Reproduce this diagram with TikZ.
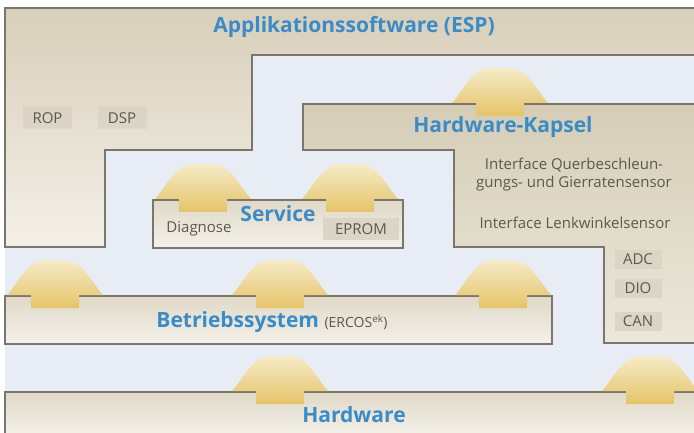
\documentclass[tikz,border=0pt]{standalone}
\usepackage{fontspec}
\setmainfont{Open Sans}
\definecolor{bgblue}{HTML}{E8ECF5}
\definecolor{linec}{HTML}{7A766C}
\definecolor{bluetxt}{HTML}{3A8BC8}
\definecolor{graytxt}{HTML}{5A5850}
\definecolor{tagfill}{HTML}{DCD5C5}
\definecolor{arrtop}{HTML}{F6EBC8}
\definecolor{arrmid}{HTML}{EFD283}
\definecolor{arrbot}{HTML}{E5C468}
\definecolor{appA}{HTML}{D8CFBA}
\definecolor{appB}{HTML}{F4F0E8}
\definecolor{kapA}{HTML}{D5CDB6}
\definecolor{kapB}{HTML}{ECE7DB}
\definecolor{boxA}{HTML}{E0D9C7}
\definecolor{boxB}{HTML}{F4F1EA}
\tikzset{
  region/.style={draw=linec, line width=1.5pt},
  title/.style={text=bluetxt, font=\bfseries\fontsize{21}{24}\selectfont, inner sep=0pt},
  smalltxt/.style={text=graytxt, font=\fontsize{15}{18}\selectfont, align=center, inner sep=0pt},
  tag/.style={fill=tagfill, text=graytxt, font=\fontsize{15}{17}\selectfont, inner sep=0pt},
  pics/uparr/.style={code={
    \path[top color=arrtop, middle color=arrmid, bottom color=arrbot]
      (-48,-1) .. controls (-38,-12) and (-28,-34) .. (-12,-36) -- (12,-36)
      .. controls (28,-34) and (38,-12) .. (48,-1)
      -- (24,-1) -- (24,12) -- (-24,12) -- (-24,-1) -- cycle;
  }}
}
\begin{document}
\begin{tikzpicture}[x=1pt,y=-1pt]
\useasboundingbox (0,0) rectangle (694,433);
\fill[white] (0,0) rectangle (694,433);
\fill[bgblue] (5,8) rectangle (694,433);
% Applikationssoftware
\draw[region, top color=appA, bottom color=appB]
  (5,8) -- (697,8) -- (697,55) -- (252,55) -- (252,150) -- (105,150) -- (105,247) -- (5,247) -- cycle;
% Hardware-Kapsel
\draw[region, top color=kapA, bottom color=kapB]
  (303,104) -- (697,104) -- (697,343) -- (604,343) -- (604,247) -- (454,247) -- (454,150) -- (303,150) -- cycle;
% Service
\draw[region, top color=boxA, bottom color=boxB] (153,200) rectangle (403,248);
% Betriebssystem
\draw[region, top color=boxA, bottom color=boxB] (5,296) rectangle (552,344);
% Hardware
\draw[region, top color=boxA, bottom color=boxB] (5,392) rectangle (697,436);
% arrows
\pic at (500,104) {uparr};
\pic at (203,200) {uparr};
\pic at (350,200) {uparr};
\pic at (55,296) {uparr};
\pic at (280,296) {uparr};
\pic at (503,296) {uparr};
\pic at (280,392) {uparr};
\pic at (650,392) {uparr};
% labels
\node[title] (tApp) at (354,27) {Applikationssoftware (ESP)};
\node[title] (tKap) at (503,127) {Hardware-Kapsel};
\node[title] (tSrv) at (278,214) {Service};
\node[title] (tBs) at (272,322) {Betriebssystem \textcolor{graytxt}{\mdseries\fontsize{14}{16}\selectfont(ERCOS\textsuperscript{ek})}};
\node[title] (tHw) at (354,415) {Hardware};
\node[smalltxt] (tQb) at (574,175) {Interface Querbeschleun-\\gungs- und Gierratensensor};
\node[smalltxt] (tLw) at (575,223) {Interface Lenkwinkelsensor};
\node[tag, minimum width=49pt, minimum height=23pt] (tRop) at (47.5,118) {ROP};
\node[tag, minimum width=49pt, minimum height=23pt] (tDsp) at (122,118) {DSP};
\node[tag, minimum width=47pt, minimum height=19pt] (tAdc) at (638,259) {ADC};
\node[tag, minimum width=47pt, minimum height=19pt] (tDio) at (638,288) {DIO};
\node[tag, minimum width=47pt, minimum height=19pt] (tCan) at (638,321) {CAN};
\node[tag, fill=none, minimum width=80pt, minimum height=22pt] (tDia) at (199,229) {Diagnose};
\node[tag, minimum width=76pt, minimum height=22pt] (tEp) at (361,229) {EPROM};
\end{tikzpicture}
\end{document}
